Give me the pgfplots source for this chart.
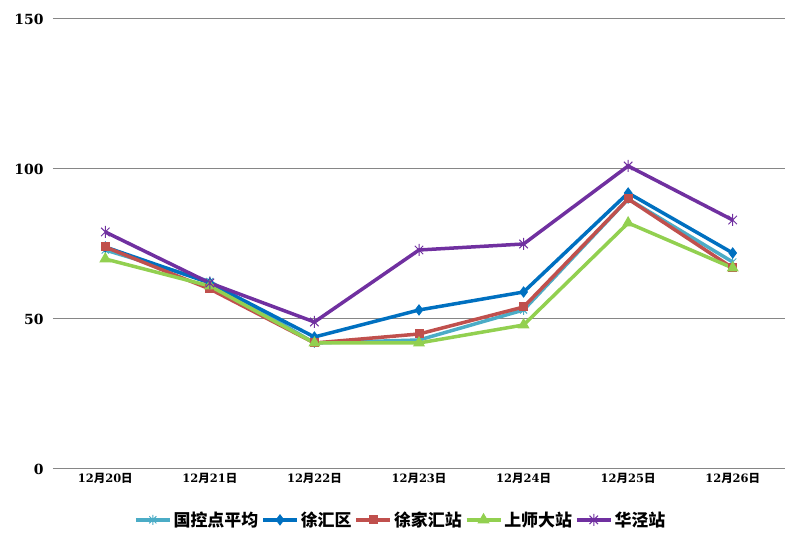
\documentclass[border=0pt]{standalone}
\usepackage{fontspec}
\usepackage{pgfplots}
\pgfplotsset{compat=1.18}
\newfontfamily\cjk{Noto Sans CJK SC}
\newfontfamily\numf{DejaVu Serif}
\definecolor{cA}{HTML}{4BACC6}
\definecolor{cB}{HTML}{0070C0}
\definecolor{cC}{HTML}{C0504D}
\definecolor{cD}{HTML}{92D050}
\definecolor{cE}{HTML}{7030A0}
\definecolor{gridc}{HTML}{868686}
\pgfdeclareplotmark{xstar}{%
  \pgfpathmoveto{\pgfqpoint{0pt}{\pgfplotmarksize}}%
  \pgfpathlineto{\pgfqpoint{0pt}{-\pgfplotmarksize}}%
  \pgfpathmoveto{\pgfqpoint{-0.7071\pgfplotmarksize}{-0.7071\pgfplotmarksize}}%
  \pgfpathlineto{\pgfqpoint{0.7071\pgfplotmarksize}{0.7071\pgfplotmarksize}}%
  \pgfpathmoveto{\pgfqpoint{-0.7071\pgfplotmarksize}{0.7071\pgfplotmarksize}}%
  \pgfpathlineto{\pgfqpoint{0.7071\pgfplotmarksize}{-0.7071\pgfplotmarksize}}%
  \pgfusepathqstroke}
\newcommand{\dl}[1]{{\numf\bfseries 12}{\cjk\bfseries 月}{\numf\bfseries #1}{\cjk\bfseries 日}}
\newcommand{\yl}[1]{{\numf\bfseries #1}}
\begin{document}
\begin{tikzpicture}[x=1bp,y=1bp]
\useasboundingbox (-53,-79) rectangle (751,469);
\begin{axis}[
  at={(0,0)}, anchor=south west,
  scale only axis, width=732bp, height=450bp,
  xmin=-0.5, xmax=6.5, ymin=0, ymax=150,
  ytick={0,50,100,150},
  yticklabels={\yl{0},\yl{50},\yl{100},\yl{150}},
  xtick={0,...,6},
  xticklabels={\dl{20},\dl{21},\dl{22},\dl{23},\dl{24},\dl{25},\dl{26}},
  x tick label style={font=\fontsize{11.5}{13}\selectfont, yshift=-1bp},
  y tick label style={font=\fontsize{14}{16}\selectfont, xshift=-6bp},
  major tick length=0pt,
  axis line style={draw=none},
  ymajorgrids, grid style={gridc, line width=1bp},
  clip=false,
  legend columns=5,
  legend style={draw=none, at={(0.475,-0.113)}, anchor=center,
    font=\fontsize{17}{19}\selectfont\cjk\bfseries,
    /tikz/every even column/.append style={column sep=1bp}},
  legend image code/.code={
    \draw[#1, mark repeat=2, mark phase=2] plot coordinates {(0bp,0bp) (17bp,0bp) (34bp,0bp)};},
  every axis plot/.append style={line width=3.5bp, mark options={solid, line width=1bp}},
]
\addplot[cA, mark=xstar, mark size=5bp] coordinates {(0,73) (1,62.5) (2,42) (3,43) (4,53) (5,90) (6,69)};
\addlegendentry{国控点平均}
\addplot[cB, mark=diamond*, mark size=5bp] coordinates {(0,74) (1,62) (2,44) (3,53) (4,59) (5,92) (6,72)};
\addlegendentry{徐汇区}
\addplot[cC, mark=square*, mark size=4bp] coordinates {(0,74) (1,60) (2,42) (3,45) (4,54) (5,90) (6,67)};
\addlegendentry{徐家汇站}
\addplot[cD, mark=triangle*, mark size=6bp] coordinates {(0,70) (1,61) (2,42) (3,42) (4,48) (5,82) (6,67)};
\addlegendentry{上师大站}
\addplot[cE, mark=xstar, mark size=6bp] coordinates {(0,79) (1,62) (2,49) (3,73) (4,75) (5,101) (6,83)};
\addlegendentry{华泾站}
\end{axis}
\end{tikzpicture}
\end{document}
